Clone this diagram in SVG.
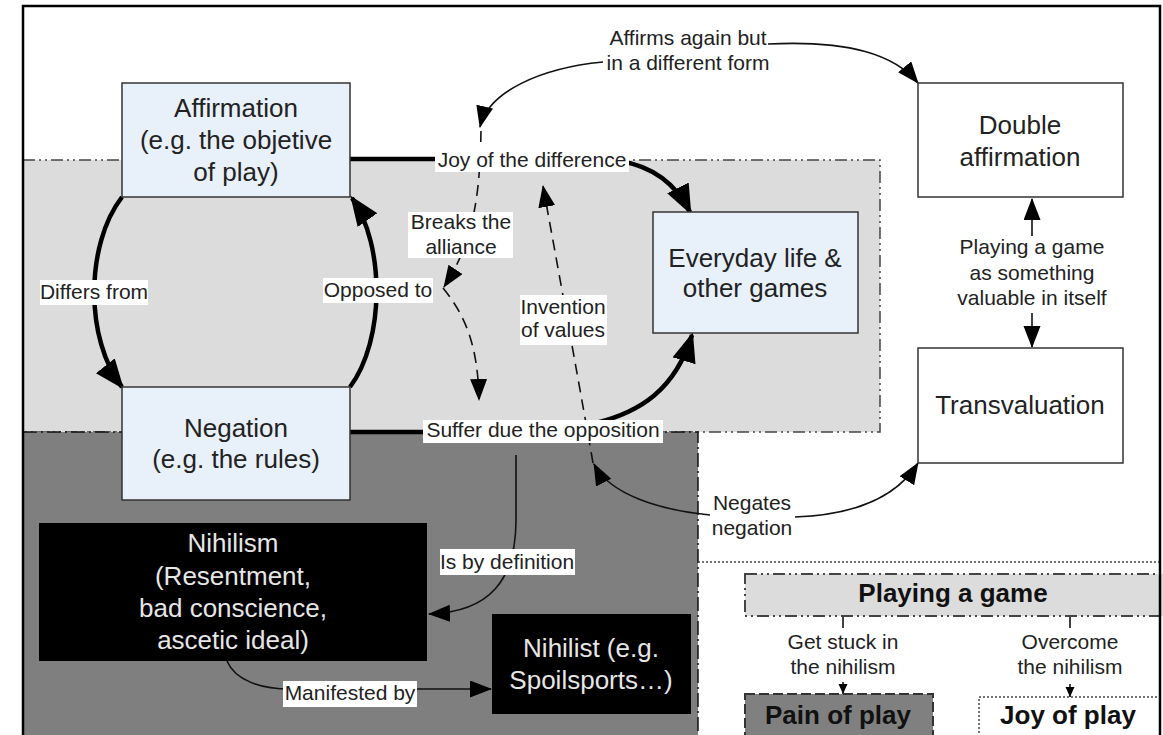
<svg xmlns="http://www.w3.org/2000/svg" width="1163" height="735" viewBox="0 0 1163 735">
<defs>
<style>
.node{stroke:#333;stroke-width:1.5}
.blue{fill:#e8f0fa}
.white{fill:#fff}
.black{fill:#000}
.nt{font-family:"Liberation Sans",Arial,sans-serif;font-size:26px;fill:#222;text-anchor:middle}
.nw{font-family:"Liberation Sans",Arial,sans-serif;font-size:26px;fill:#e6e6e6;text-anchor:middle}
.lt{font-family:"Liberation Sans",Arial,sans-serif;font-size:21px;fill:#222;text-anchor:middle}
.bt{font-family:"Liberation Sans",Arial,sans-serif;font-size:26px;font-weight:bold;fill:#111;text-anchor:middle}
.lbg{fill:#fff}
.thick{fill:none;stroke:#000;stroke-width:4.5}
.thin{fill:none;stroke:#111;stroke-width:1.6}
.dash{fill:none;stroke:#111;stroke-width:1.6;stroke-dasharray:11,7}
</style>
<marker id="ahThick" markerUnits="userSpaceOnUse" markerWidth="32" markerHeight="26" refX="27" refY="12" orient="auto"><path d="M0,0 L30,12 L0,24 z" fill="#000"/></marker>
<marker id="ah" markerUnits="userSpaceOnUse" markerWidth="24" markerHeight="18" refX="21" refY="8.5" orient="auto"><path d="M0,0 L22,8.5 L0,17 z" fill="#000"/></marker>
<marker id="ahS" markerUnits="userSpaceOnUse" markerWidth="11" markerHeight="10" refX="10" refY="4.5" orient="auto"><path d="M0,0 L10,4.5 L0,9 z" fill="#000"/></marker>
</defs>
<rect x="0" y="0" width="1163" height="735" fill="#fff"/>
<g id="regions">
<rect x="23" y="160" width="857" height="272" fill="#dcdcdc" stroke="#444" stroke-width="1.5" stroke-dasharray="12,4,2,4,2,4"/>
<rect x="23" y="432" width="675" height="320" fill="#7f7f7f" stroke="#111" stroke-width="1.5" stroke-dasharray="14,4,2,4"/>
<line x1="698" y1="562" x2="1160" y2="562" stroke="#444" stroke-width="1.5" stroke-dasharray="2,2"/>
</g>
<g id="connectors">
<path class="thick" d="M122 197 C85 245 85 340 122 387" marker-end="url(#ahThick)"/>
<path class="thick" d="M350 387 C385 340 385 245 352 198" marker-end="url(#ahThick)"/>
<path class="thick" d="M350 159 L440 159"/>
<path class="thick" d="M620 161 C650 166 675 182 690 212" marker-end="url(#ahThick)"/>
<path class="thick" d="M350 432 L430 432"/>
<path class="thick" d="M596 423 C640 412 675 390 692 335" marker-end="url(#ahThick)"/>
<path class="thin" d="M768 44 C850 40 895 55 918 83" marker-end="url(#ah)"/>
<path class="thin" d="M603 62 C540 68 488 92 480 127" marker-end="url(#ah)"/>
<path class="dash" d="M481 131 C480 190 475 240 444 287" marker-end="url(#ah)"/>
<path class="dash" d="M443 288 C465 315 478 345 479 400" marker-end="url(#ah)"/>
<path class="dash" d="M593 463 C582 400 562 290 543 186" marker-end="url(#ah)"/>
<path class="thin" d="M710 515 C660 510 610 495 594 464" marker-end="url(#ah)"/>
<path class="thin" d="M795 517 C850 515 895 500 918 463" marker-end="url(#ah)"/>
<path class="thin" d="M516 455 L516 520 C516 580 490 612 429 614" marker-end="url(#ah)"/>
<path class="thin" d="M227 661 C235 680 260 689 290 689 L491 689" marker-end="url(#ah)"/>
<path class="thin" d="M1032 236 L1032 199" marker-end="url(#ah)"/>
<path class="thin" d="M1032 313 L1032 347" marker-end="url(#ah)"/>
<path class="thin" d="M843 616 L843 628"/>
<path class="thin" d="M843 682 L843 694" marker-end="url(#ahS)"/>
<path class="thin" d="M1070 616 L1070 628"/>
<path class="thin" d="M1070 684 L1070 697" marker-end="url(#ahS)"/>
</g>
<g id="affirmation">
<rect class="node blue" x="122" y="83" width="228" height="114"/>
<text class="nt" x="236" y="117">Affirmation</text>
<text class="nt" x="236" y="149">(e.g. the objetive</text>
<text class="nt" x="236" y="181">of play)</text>
</g>
<g id="negation">
<rect class="node blue" x="122" y="387" width="228" height="113"/>
<text class="nt" x="236" y="437">Negation</text>
<text class="nt" x="236" y="468">(e.g. the rules)</text>
</g>
<g id="everyday">
<rect class="node blue" x="653" y="212" width="205" height="121"/>
<text class="nt" x="755" y="267">Everyday life &amp;</text>
<text class="nt" x="755" y="297">other games</text>
</g>
<g id="double-affirmation">
<rect class="node white" x="918" y="83" width="205" height="114"/>
<text class="nt" x="1020" y="134">Double</text>
<text class="nt" x="1020" y="166">affirmation</text>
</g>
<g id="transvaluation">
<rect class="node white" x="918" y="348" width="205" height="115"/>
<text class="nt" x="1020" y="414">Transvaluation</text>
</g>
<g id="nihilism">
<rect class="black" x="39" y="523" width="388" height="138"/>
<text class="nw" x="233" y="552">Nihilism</text>
<text class="nw" x="233" y="585">(Resentment,</text>
<text class="nw" x="233" y="617">bad conscience,</text>
<text class="nw" x="233" y="649">ascetic ideal)</text>
</g>
<g id="nihilist">
<rect class="black" x="492" y="614" width="199" height="100"/>
<text class="nw" x="591" y="657">Nihilist (e.g.</text>
<text class="nw" x="591" y="689">Spoilsports…)</text>
</g>
<g id="playing-a-game">
<rect x="745" y="574" width="425" height="42" fill="#dcdcdc" stroke="#444" stroke-width="2" stroke-dasharray="12,4,2,4,2,4"/>
<text class="bt" x="953" y="602">Playing a game</text>
</g>
<g id="pain-of-play">
<rect x="745" y="694" width="188" height="60" fill="#808080" stroke="#333" stroke-width="2" stroke-dasharray="10,4"/>
<text class="bt" x="838" y="724">Pain of play</text>
</g>
<g id="joy-of-play">
<rect x="979" y="697" width="190" height="60" fill="#fff" stroke="#444" stroke-width="1.5" stroke-dasharray="2,2"/>
<text class="bt" x="1068" y="724">Joy of play</text>
</g>
<g id="labels">
<text class="lt" x="688" y="45">Affirms again but</text>
<text class="lt" x="688" y="70">in a different form</text>
<rect class="lbg" x="40" y="280" width="108" height="25"/>
<text class="lt" x="94" y="299">Differs from</text>
<rect class="lbg" x="323" y="278" width="110" height="25"/>
<text class="lt" x="378" y="297">Opposed to</text>
<rect class="lbg" x="408" y="212" width="105" height="46"/>
<text class="lt" x="461" y="229">Breaks the</text>
<text class="lt" x="461" y="254">alliance</text>
<rect class="lbg" x="435" y="149" width="194" height="23"/>
<text class="lt" x="532" y="167">Joy of the difference</text>
<rect class="lbg" x="520" y="295" width="87" height="50"/>
<text class="lt" x="563" y="314">Invention</text>
<text class="lt" x="563" y="337">of values</text>
<rect class="lbg" x="423" y="420" width="240" height="23"/>
<text class="lt" x="543" y="437">Suffer due the opposition</text>
<rect class="lbg" x="440" y="549" width="135" height="26"/>
<text class="lt" x="507" y="569">Is by definition</text>
<rect class="lbg" x="283" y="681" width="134" height="26"/>
<text class="lt" x="350" y="700">Manifested by</text>
<text class="lt" x="752" y="510">Negates</text>
<text class="lt" x="752" y="535">negation</text>
<text class="lt" x="1032" y="254">Playing a game</text>
<text class="lt" x="1032" y="280">as something</text>
<text class="lt" x="1032" y="305">valuable in itself</text>
<text class="lt" x="843" y="649">Get stuck in</text>
<text class="lt" x="843" y="674">the nihilism</text>
<text class="lt" x="1070" y="649">Overcome</text>
<text class="lt" x="1070" y="674">the nihilism</text>
</g>
<rect x="23" y="6" width="1137" height="750" fill="none" stroke="#000" stroke-width="2.5"/>
</svg>
